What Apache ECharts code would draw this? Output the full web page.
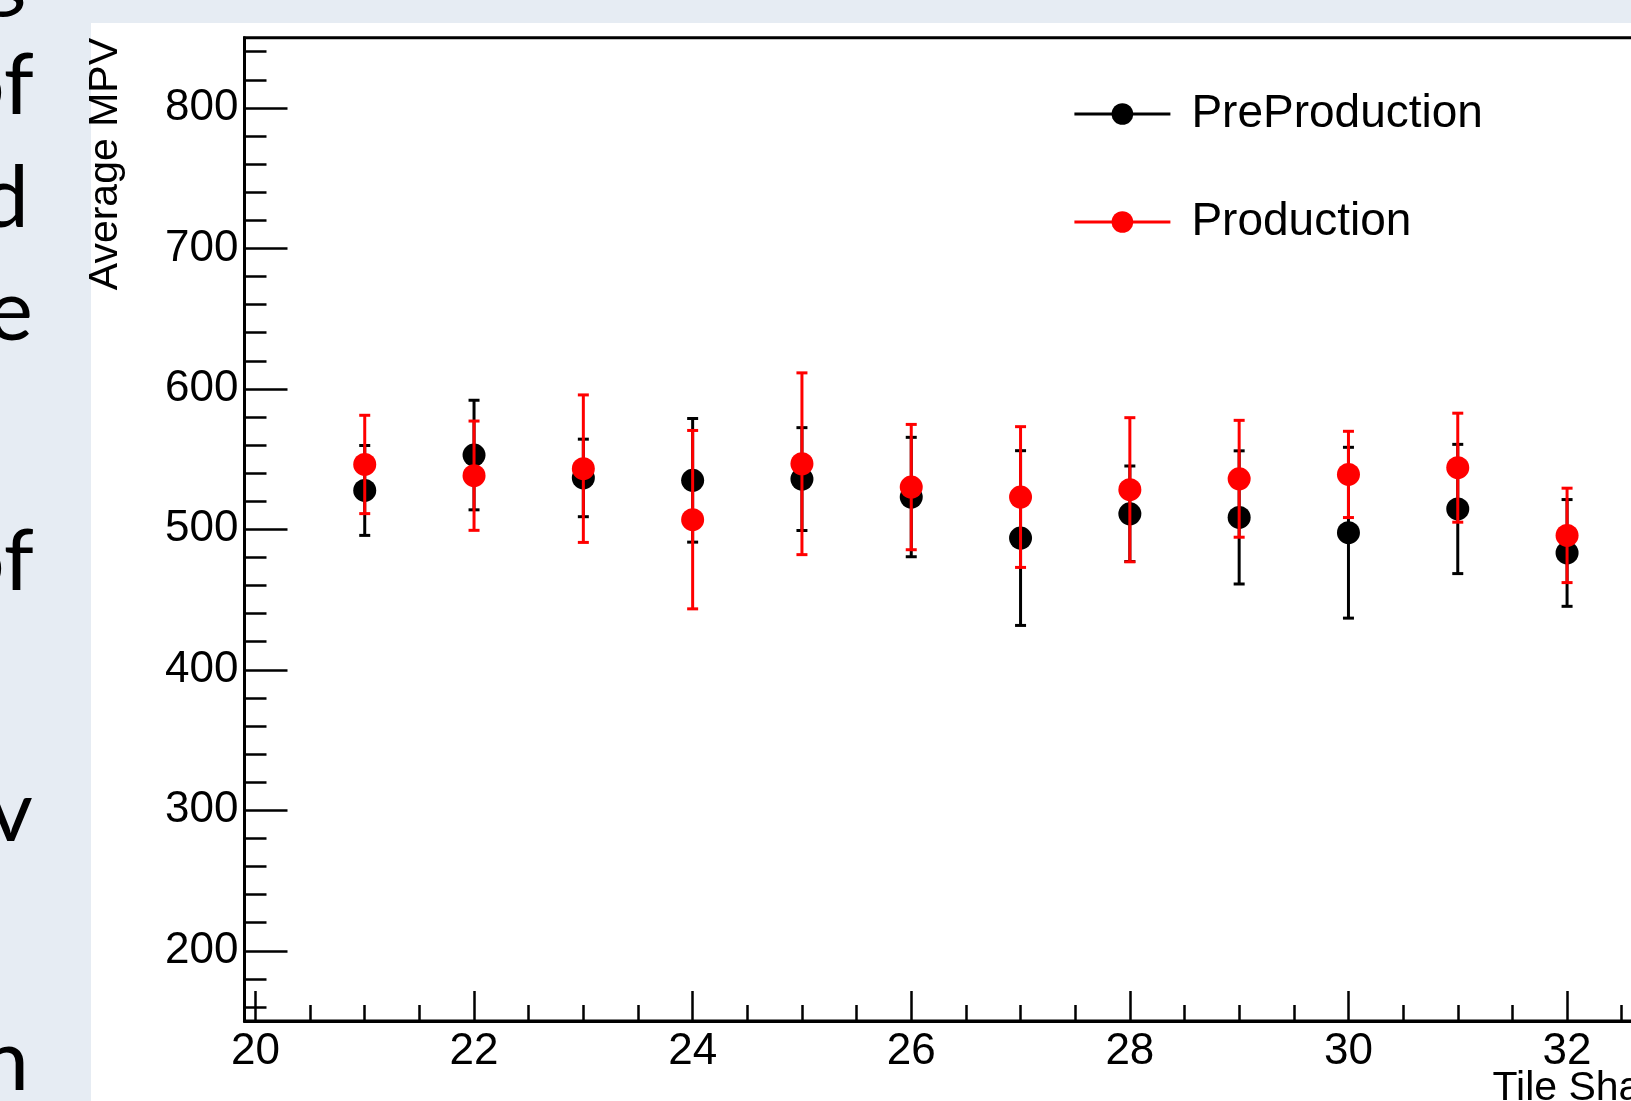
<!DOCTYPE html>
<html>
<head>
<meta charset="utf-8">
<title>Average MPV vs Tile Shape</title>
<script src="https://cdn.jsdelivr.net/npm/echarts@6/dist/echarts.min.js"></script>
<style>
	html, body { margin: 0; padding: 0; background: #fff; }
	#chart { width: 1631px; height: 1101px; }
</style>
</head>
<body>
<div id="chart"></div>
<script>
/* tile shape index */
const tileShape = [21, 22, 23, 24, 25, 26, 27, 28, 29, 30, 31, 32];
/* PreProduction: average MPV and its error */
const preMPV = [527.7, 552.9, 536.6, 534.9, 535.8, 523.0, 493.8, 511.1, 508.5, 497.6, 514.5, 483.2];
const preErr = [32.0, 39.0, 27.6, 44.0, 36.6, 42.5, 62.2, 34.0, 47.4, 60.8, 46.0, 38.0];
/* Production: average MPV and its error */
const prodMPV = [546.2, 538.2, 543.2, 506.9, 546.7, 530.1, 523.0, 528.2, 536.0, 539.1, 543.9, 495.7];
const prodErr = [35.0, 38.9, 52.5, 63.5, 64.7, 44.6, 50.1, 51.3, 41.6, 30.7, 38.8, 33.6];
/* axis ticks */
const xMajorTicks = [20, 22, 24, 26, 28, 30, 32];
const xMinorTicks = [20.5, 21, 21.5, 22.5, 23, 23.5, 24.5, 25, 25.5, 26.5, 27, 27.5, 28.5, 29, 29.5, 30.5, 31, 31.5, 32.5, 33];
const yMajorTicks = [200, 300, 400, 500, 600, 700, 800];
const yMinorTicks = [160, 180, 220, 240, 260, 280, 320, 340, 360, 380, 420, 440, 460, 480, 520, 540, 560, 580, 620, 640, 660, 680, 720, 740, 760, 780, 820, 840];
/* slide text fragments left of the plot */
const slideWords = ['g', 'of', 'd', 'e', 'of', 'v', 'n'];
const slideBaselines = [4, 117, 230, 343, 593, 844, 1093];
const slideRight = [26, 34, 29, 33, 34, 33, 29];

const FONT = 'Liberation Sans, Arial, sans-serif';

let myChart = echarts.init(document.getElementById('chart'));

/* error bar with caps */
function errorBar(color) {
	return function (params, api) {
		const x = api.value(0);
		const lo = api.coord([x, api.value(1)]);
		const hi = api.coord([x, api.value(2)]);
		const cap = 5.5;
		const style = { stroke: color, lineWidth: 3 };
		return {
			type: 'group',
			children: [
				{ type: 'line', shape: { x1: lo[0], y1: lo[1], x2: hi[0], y2: hi[1] }, style: style },
				{ type: 'line', shape: { x1: lo[0] - cap, y1: lo[1], x2: lo[0] + cap, y2: lo[1] }, style: style },
				{ type: 'line', shape: { x1: hi[0] - cap, y1: hi[1], x2: hi[0] + cap, y2: hi[1] }, style: style }
			]
		};
	};
}

let graphics = [
	{ type: 'rect', left: 0, top: 0, shape: { width: 91, height: 1101 }, style: { fill: '#e6ecf3' }, silent: true },
	{ type: 'rect', left: 0, top: 0, shape: { width: 1631, height: 23 }, style: { fill: '#e6ecf3' }, silent: true },
	{
		type: 'text', x: 126, y: 38, rotation: Math.PI / 2,
		style: { text: 'Average MPV', font: '41px ' + FONT, fill: '#000', align: 'right', verticalAlign: 'bottom' }
	},
	{
		type: 'text', x: 1687, y: 1068,
		style: { text: 'Tile Shape', font: '41px ' + FONT, fill: '#000', align: 'right', verticalAlign: 'top' }
	}
];
slideWords.forEach((w, i) => {
	graphics.push({
		type: 'text', x: slideRight[i], y: slideBaselines[i] - 31,
		style: { text: w, font: '86px Lato, "Open Sans", sans-serif', fill: '#000', align: 'right', verticalAlign: 'middle' }
	});
});

const axisLineStyle = { color: '#000', width: 3 };
const tickLineStyle = { color: '#000', width: 2.5 };

let option = {
	animation: false,
	backgroundColor: '#fff',
	grid: {
		left: 244.5,
		top: 37.7,
		width: 1442.8,
		bottom: 80,
		outerBoundsMode: 'none',
		show: true,
		borderColor: '#000',
		borderWidth: 3,
		containLabel: false
	},
	legend: {
		orient: 'vertical',
		left: 1068,
		top: 86,
		itemWidth: 96,
		itemHeight: 27,
		itemGap: 62,
		lineStyle: { opacity: 1, width: 2.8 },
		textStyle: { fontFamily: FONT, fontSize: 46, color: '#000', lineHeight: 46, padding: [0, 0, 0, 16] },
		data: ['PreProduction', 'Production']
	},
	xAxis: [{
		type: 'value',
		min: 19.9,
		max: 33.1,
		position: 'bottom',
		axisLine: { onZero: false, lineStyle: axisLineStyle },
		axisTick: { inside: true, length: 30, customValues: xMajorTicks, lineStyle: tickLineStyle },
		axisLabel: { customValues: xMajorTicks, fontFamily: FONT, fontSize: 44, color: '#000', margin: 9 },
		splitLine: { show: false }
	}, {
		type: 'value',
		min: 19.9,
		max: 33.1,
		position: 'bottom',
		axisLine: { show: false },
		axisTick: { inside: true, length: 16, customValues: xMinorTicks, lineStyle: tickLineStyle },
		axisLabel: { show: false },
		splitLine: { show: false }
	}],
	yAxis: [{
		type: 'value',
		min: 150,
		max: 850,
		position: 'left',
		axisLine: { show: true, onZero: false, lineStyle: axisLineStyle },
		axisTick: { show: true, inside: true, length: 43, customValues: yMajorTicks, lineStyle: tickLineStyle },
		axisLabel: { customValues: yMajorTicks, fontFamily: FONT, fontSize: 44, color: '#000', margin: 6 },
		splitLine: { show: false }
	}, {
		type: 'value',
		min: 150,
		max: 850,
		position: 'left',
		axisLine: { show: false },
		axisTick: { show: true, inside: true, length: 22, customValues: yMinorTicks, lineStyle: tickLineStyle },
		axisLabel: { show: false },
		splitLine: { show: false }
	}],
	graphic: graphics,
	series: [{
		name: 'PreProduction errors',
		type: 'custom',
		z: 2,
		silent: true,
		renderItem: errorBar('#000'),
		encode: { x: 0, y: [1, 2] },
		data: tileShape.map((x, i) => [x, preMPV[i] - preErr[i], preMPV[i] + preErr[i]])
	}, {
		name: 'PreProduction',
		type: 'line',
		z: 3,
		symbol: 'circle',
		symbolSize: 23,
		showSymbol: true,
		itemStyle: { color: '#000' },
		lineStyle: { color: '#000', opacity: 0 },
		data: tileShape.map((x, i) => [x, preMPV[i]])
	}, {
		name: 'Production errors',
		type: 'custom',
		z: 4,
		silent: true,
		renderItem: errorBar('#ff0000'),
		encode: { x: 0, y: [1, 2] },
		data: tileShape.map((x, i) => [x, prodMPV[i] - prodErr[i], prodMPV[i] + prodErr[i]])
	}, {
		name: 'Production',
		type: 'line',
		z: 5,
		symbol: 'circle',
		symbolSize: 23,
		showSymbol: true,
		itemStyle: { color: '#ff0000' },
		lineStyle: { color: '#ff0000', opacity: 0 },
		data: tileShape.map((x, i) => [x, prodMPV[i]])
	}]
};

myChart.setOption(option);
</script>
</body>
</html>
